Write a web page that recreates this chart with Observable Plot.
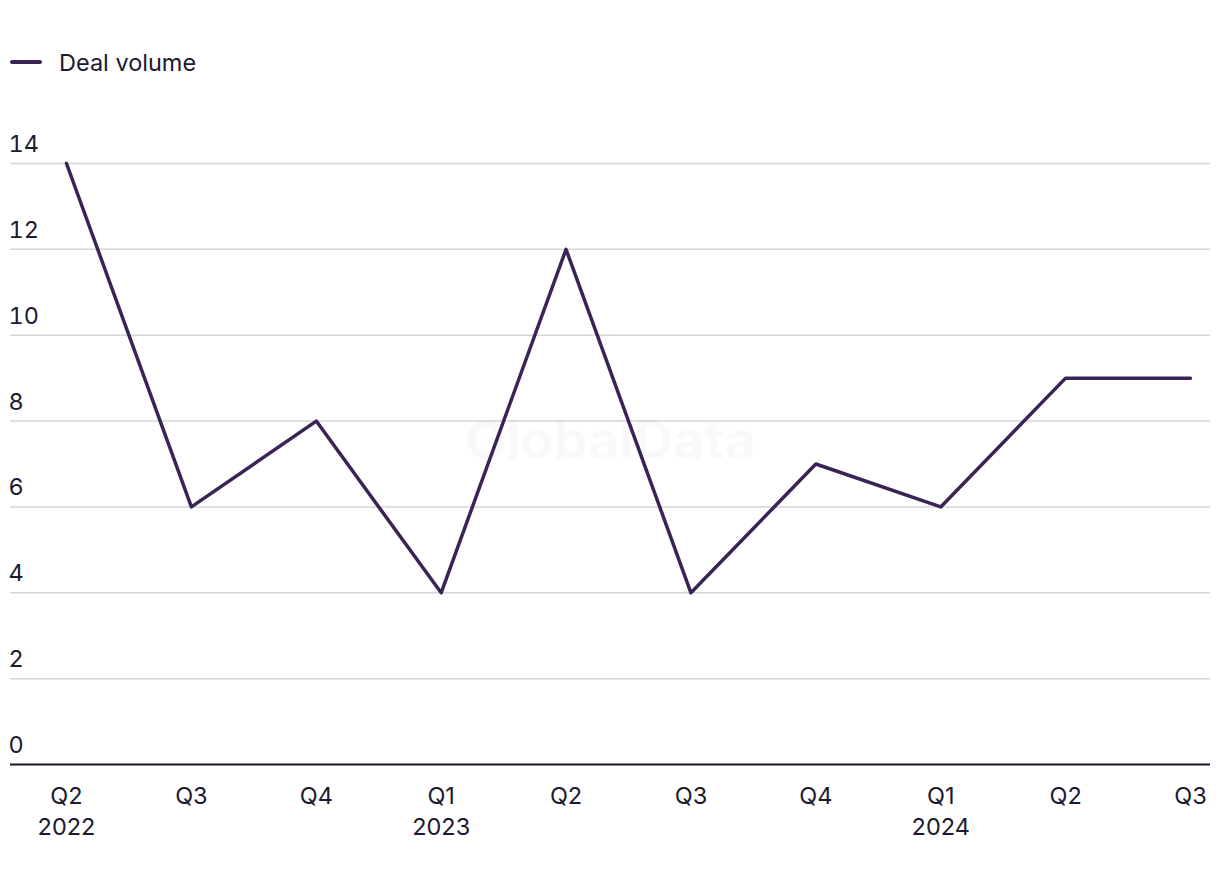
<!DOCTYPE html>
<html>
<head>
<meta charset="utf-8">
<script src="https://cdn.jsdelivr.net/npm/d3@7"></script>
<script src="https://cdn.jsdelivr.net/npm/@observablehq/plot@0.6"></script>
<style>
  html, body { margin: 0; padding: 0; background: #fff; }
  body { width: 1220px; height: 884px; overflow: hidden; font-family: Inter, "Noto Sans", sans-serif; color: #1c1a2e; }
  #legend { height: 100px; box-sizing: border-box; padding-top: 48px; padding-left: 10px; display: flex; align-items: flex-start; }
  #legend .item { display: flex; align-items: center; height: 28px; font-size: 23.5px; }
  #legend .sw { width: 32px; height: 3.5px; background: #3a2456; border-radius: 2px; margin-right: 17px; }
</style>
</head>
<body>
<div id="legend"><div class="item"><span class="sw"></span><span>Deal volume</span></div></div>
<div id="chart"></div>
<script>
const quarters = ["Q2 2022", "Q3 2022", "Q4 2022", "Q1 2023", "Q2 2023", "Q3 2023", "Q4 2023", "Q1 2024", "Q2 2024", "Q3 2024"];
const tickLabels = ["Q2\n2022", "Q3", "Q4", "Q1\n2023", "Q2", "Q3", "Q4", "Q1\n2024", "Q2", "Q3"];
const dealVolume = [14, 6, 8, 4, 12, 4, 7, 6, 9, 9];
const yTicks = [0, 2, 4, 6, 8, 10, 12, 14];

const data = quarters.map((q, i) => ({q, v: dealVolume[i]}));
const labelOf = new Map(quarters.map((q, i) => [q, tickLabels[i]]));

const chart = Plot.plot({
  width: 1220,
  height: 784,
  marginTop: 63,
  marginBottom: 120,
  marginLeft: 10,
  marginRight: 10,
  style: {fontFamily: "Inter, 'Noto Sans', sans-serif", color: "#1c1a2e", background: "#fff"},
  x: {type: "point", domain: quarters, range: [66, 1190], padding: 0, round: false},
  y: {domain: [0, 14]},
  marks: [
    Plot.gridY(yTicks, {stroke: "#d6d6d6", strokeOpacity: 1, strokeWidth: 1.5}),
    Plot.text(["GlobalData"], {frameAnchor: "middle", dy: -22, fontSize: 54, fontWeight: "bold", fill: "#000", fillOpacity: 0.025}),
    Plot.axisY(yTicks, {tickSize: 0, textAnchor: "start", dx: 7, dy: -19, fontSize: 23.5, fill: "#1c1a2e", label: null}),
    Plot.axisX({tickSize: 0, tickPadding: 18, fontSize: 23.5, lineHeight: 1.3, fill: "#1c1a2e", tickFormat: d => labelOf.get(d), label: null}),
    Plot.ruleY([0], {stroke: "#1c1a2e", strokeWidth: 2}),
    Plot.line(data, {x: "q", y: "v", stroke: "#3a2456", strokeWidth: 3.5})
  ]
});
document.getElementById("chart").appendChild(chart);
</script>
</body>
</html>
